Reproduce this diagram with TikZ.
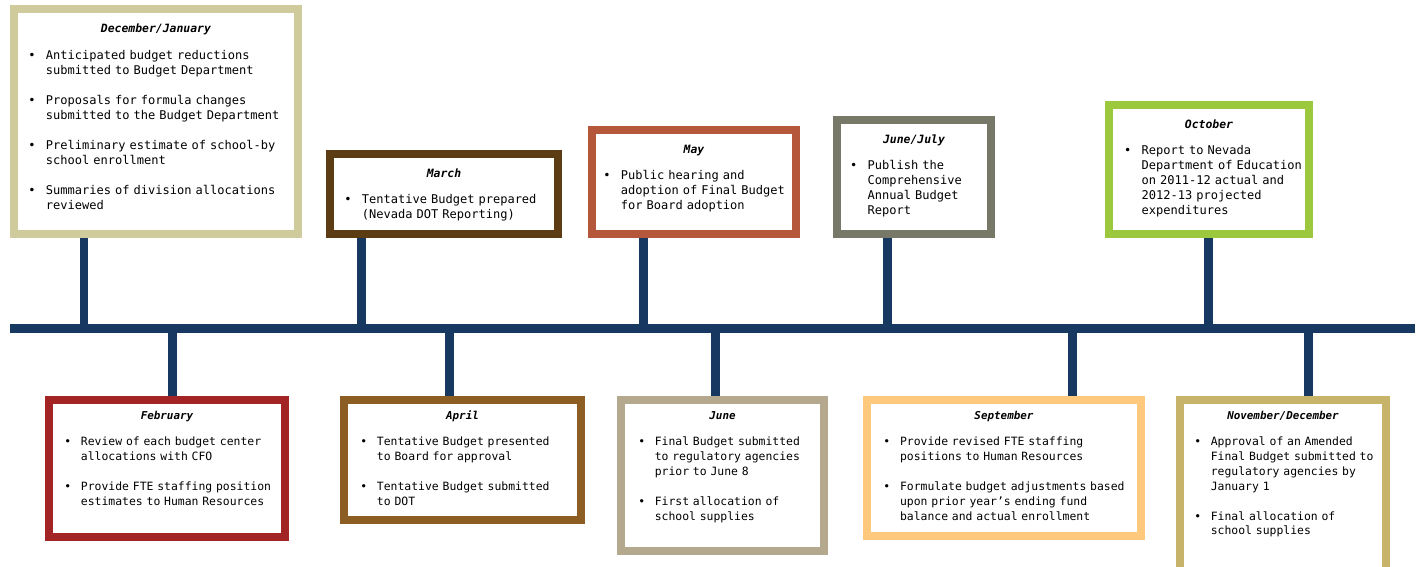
\documentclass[tikz,border=0pt]{standalone}
\usepackage{fontspec}
\setmonofont{DejaVu Sans Mono}
\definecolor{axisnavy}{HTML}{173861}
\definecolor{decjancol}{HTML}{D0CB9C}
\definecolor{marchcol}{HTML}{5C3D13}
\definecolor{maycol}{HTML}{B5573B}
\definecolor{junejulycol}{HTML}{777868}
\definecolor{octobercol}{HTML}{9BC83C}
\definecolor{febcol}{HTML}{A32424}
\definecolor{aprilcol}{HTML}{8C5E24}
\definecolor{junecol}{HTML}{B4A88F}
\definecolor{septcol}{HTML}{FEC97C}
\definecolor{novdeccol}{HTML}{C8B36B}
\newcommand{\titlesize}{6.5}
\newcommand{\itemshift}{0pt}
\newcommand{\monthtitle}[1]{\noindent\makebox[\linewidth]{\fontsize{\titlesize}{8.5}\selectfont\bfseries\itshape #1}\par}
\newcommand{\bullitem}[2][8.5pt]{\par\vspace{#1}{\leftskip=\itemshift\relax\hangindent=1.45em\hangafter=1\noindent\makebox[1.45em][l]{\textbullet}#2\par}}
\tikzset{titlesize/.code={\def\titlesize{#1}}, itemshift/.code={\def\itemshift{#1}}}
\tikzstyle{monthbox} = [rectangle, line width=0.16cm, fill=white, inner sep=0pt, align=left, text=black]
\tikzstyle{topbox} = [monthbox, text height=13.5pt, titlesize=6.5, font=\ttfamily\fontsize{6.85}{8.5}\selectfont]
\tikzstyle{botbox} = [monthbox, text height=11.3pt, titlesize=6.2, font=\ttfamily\fontsize{6.5}{8.5}\selectfont]
\tikzstyle{axis} = [line width=0.18cm, draw=axisnavy]
\tikzstyle{stem} = [line width=0.18cm, draw=axisnavy]

\begin{document}
\begin{tikzpicture}[x=0.02cm, y=-0.02cm]
    \useasboundingbox (0,0) rectangle (1418,567);
    % Top row
    \node[topbox, draw=decjancol, text width=157.2pt, itemshift=6pt, minimum width=5.68cm, text depth=4.5cm-13.5pt] (decjan) at (156,121.5) {%
        \monthtitle{December/January}
        \bullitem[7pt]{Anticipated budget reductions\newline submitted to Budget Department}
        \bullitem{Proposals for formula changes\newline submitted to the Budget Department}
        \bullitem{Preliminary estimate of school-by\newline school enrollment}
        \bullitem{Summaries of division allocations\newline reviewed}};
    \node[topbox, draw=marchcol, text width=114.7pt, itemshift=0.65pt, minimum width=4.56cm, text depth=1.6cm-13.5pt] (march) at (444,194) {%
        \monthtitle{March}
        \bullitem[6.2pt]{Tentative Budget prepared\newline (Nevada DOT Reporting)}};
    \node[topbox, draw=maycol, text width=115pt, itemshift=5.9pt, minimum width=4.08cm, text depth=2.08cm-13.5pt] (may) at (694,182) {%
        \monthtitle{May}
        \bullitem[6.2pt]{Public hearing and\newline adoption of Final Budget\newline for Board adoption}};
    \node[topbox, draw=junejulycol, text width=72.6pt, minimum width=3.08cm, text depth=2.28cm-13.5pt] (junejuly) at (914,177) {%
        \monthtitle{June/July}
        \bullitem[6.2pt]{Publish the\newline Comprehensive\newline Annual Budget\newline Report}};
    \node[topbox, draw=octobercol, text width=113.4pt, itemshift=8.4pt, minimum width=4.0cm, text depth=2.58cm-13.5pt] (october) at (1209,169.5) {%
        \monthtitle{October}
        \bullitem[6.2pt]{Report to Nevada\newline Department of Education\newline on 2011-12 actual and\newline 2012-13 projected\newline expenditures}};

    % Bottom row
    \node[botbox, draw=febcol, text width=131pt, itemshift=7.1pt, minimum width=4.72cm, text depth=2.74cm-11.3pt] (feb) at (167,468.5) {%
        \monthtitle{February}
        \bullitem[6pt]{Review of each budget center\newline allocations with CFO}
        \bullitem{Provide FTE staffing position\newline estimates to Human Resources}};
    \node[botbox, draw=aprilcol, text width=116.2pt, minimum width=4.74cm, text depth=2.4cm-11.3pt] (april) at (462.5,460) {%
        \monthtitle{April}
        \bullitem[6pt]{Tentative Budget presented\newline to Board for approval}
        \bullitem{Tentative Budget submitted\newline to DOT}};
    \node[botbox, draw=junecol, text width=97.3pt, itemshift=0.7pt, minimum width=4.06cm, text depth=3.02cm-11.3pt] (june) at (722.5,475.5) {%
        \monthtitle{June}
        \bullitem[6pt]{Final Budget submitted\newline to regulatory agencies\newline prior to June 8}
        \bullitem{First allocation of\newline school supplies}};
    \node[botbox, draw=septcol, text width=149.8pt, itemshift=6.3pt, minimum width=5.48cm, text depth=2.72cm-11.3pt] (sept) at (1004,468) {%
        \monthtitle{September}
        \bullitem[6pt]{Provide revised FTE staffing\newline positions to Human Resources}
        \bullitem{Formulate budget adjustments based\newline upon prior year’s ending fund\newline balance and actual enrollment}};
    \node[botbox, draw=novdeccol, text width=115.6pt, itemshift=7.3pt, minimum width=4.12cm, text depth=3.52cm-11.3pt] (novdec) at (1283,488) {%
        \monthtitle{November/December}
        \bullitem[6pt]{Approval of an Amended\newline Final Budget submitted to\newline regulatory agencies by\newline January 1}
        \bullitem{Final allocation of\newline school supplies}};

    % Time axis
    \coordinate (axisL) at (10,328.5);
    \coordinate (axisR) at (1415,328.5);
    \draw[axis] (axisL) -- (axisR);

    % Stems
    \coordinate (sdecjan) at (84,328.5);
    \coordinate (sfeb) at (172.5,328.5);
    \coordinate (smarch) at (361,328.5);
    \coordinate (sapril) at (449,328.5);
    \coordinate (smay) at (643,328.5);
    \coordinate (sjune) at (715,328.5);
    \coordinate (sjunejuly) at (887,328.5);
    \coordinate (ssept) at (1072,328.5);
    \coordinate (soctober) at (1208,328.5);
    \coordinate (snovdec) at (1308,328.5);
    \draw[stem] (sdecjan) -- (sdecjan |- decjan.south);
    \draw[stem] (smarch) -- (smarch |- march.south);
    \draw[stem] (smay) -- (smay |- may.south);
    \draw[stem] (sjunejuly) -- (sjunejuly |- junejuly.south);
    \draw[stem] (soctober) -- (soctober |- october.south);
    \draw[stem] (sfeb) -- (sfeb |- feb.north);
    \draw[stem] (sapril) -- (sapril |- april.north);
    \draw[stem] (sjune) -- (sjune |- june.north);
    \draw[stem] (ssept) -- (ssept |- sept.north);
    \draw[stem] (snovdec) -- (snovdec |- novdec.north);
\end{tikzpicture}
\end{document}
